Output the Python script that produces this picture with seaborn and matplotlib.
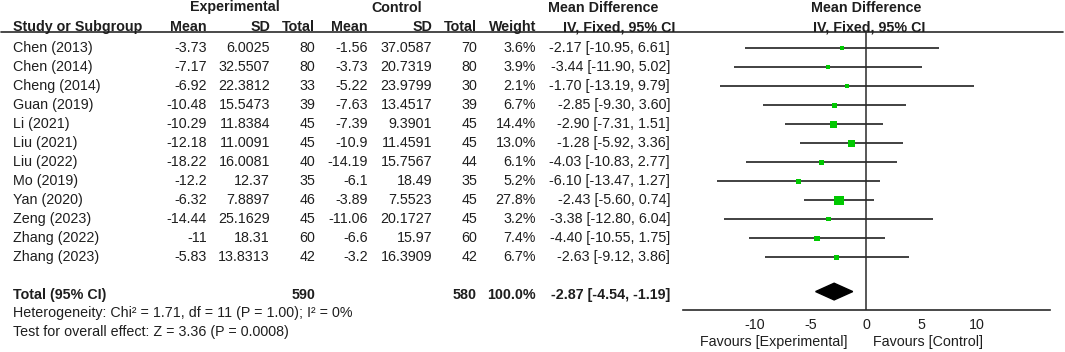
import numpy as np
import pandas as pd
import seaborn as sns
import matplotlib.pyplot as plt
from matplotlib import transforms
from matplotlib.lines import Line2D

# ---- data ----
studies = ["Chen (2013)", "Chen (2014)", "Cheng (2014)", "Guan (2019)", "Li (2021)", "Liu (2021)",
           "Liu (2022)", "Mo (2019)", "Yan (2020)", "Zeng (2023)", "Zhang (2022)", "Zhang (2023)"]
exp_mean = [-3.73, -7.17, -6.92, -10.48, -10.29, -12.18, -18.22, -12.2, -6.32, -14.44, -11, -5.83]
exp_sd = [6.0025, 32.5507, 22.3812, 15.5473, 11.8384, 11.0091, 16.0081, 12.37, 7.8897, 25.1629, 18.31, 13.8313]
exp_n = [80, 80, 33, 39, 45, 45, 40, 35, 46, 45, 60, 42]
ctrl_mean = [-1.56, -3.73, -5.22, -7.63, -7.39, -10.9, -14.19, -6.1, -3.89, -11.06, -6.6, -3.2]
ctrl_sd = [37.0587, 20.7319, 23.9799, 13.4517, 9.3901, 11.4591, 15.7567, 18.49, 7.5523, 20.1727, 15.97, 16.3909]
ctrl_n = [70, 80, 30, 39, 45, 45, 44, 35, 45, 45, 60, 42]
weight = [3.6, 3.9, 2.1, 6.7, 14.4, 13.0, 6.1, 5.2, 27.8, 3.2, 7.4, 6.7]
md = [-2.17, -3.44, -1.70, -2.85, -2.90, -1.28, -4.03, -6.10, -2.43, -3.38, -4.40, -2.63]
ci_low = [-10.95, -11.90, -13.19, -9.30, -7.31, -5.92, -10.83, -13.47, -5.60, -12.80, -10.55, -9.12]
ci_high = [6.61, 5.02, 9.79, 3.60, 1.51, 3.36, 2.77, 1.27, 0.74, 6.04, 1.75, 3.86]
total_md, total_low, total_high = -2.87, -4.54, -1.19
total_exp, total_ctrl, total_weight = 590, 580, 100.0
heterogeneity = "Heterogeneity: Chi\u00b2 = 1.71, df = 11 (P = 1.00); I\u00b2 = 0%"
overall = "Test for overall effect: Z = 3.36 (P = 0.0008)"
x_ticks = [-10, -5, 0, 5, 10]

df = pd.DataFrame({"study": studies, "md": md, "lo": ci_low, "hi": ci_high, "w": weight})
df["row"] = np.arange(len(df))
total_row = len(df) + 1

sns.set_style("white")
plt.rcParams["font.family"] = ["Liberation Sans", "DejaVu Sans"]
FS = 10.3
TC = "#1e1e1e"
LC = "#2a2a2a"

W, H = 1065, 352
fig = plt.figure(figsize=(W / 100, H / 100), dpi=100)
ax = fig.add_axes([683 / W, 1 - 310 / H, (1050 - 683) / W, (310 - 32) / H])

# CI lines, weighted squares, pooled diamond
ax.hlines(df["row"], df["lo"], df["hi"], color=LC, lw=1.25, zorder=2)
sns.scatterplot(data=df, x="md", y="row", size="w", sizes=(7, 46),
                marker="s", color="#00c800", linewidth=0, legend=False, ax=ax, zorder=3)
ax.fill([total_low, total_md, total_high, total_md],
        [total_row - 0.2, total_row - 0.64, total_row - 0.2, total_row + 0.24], color="black", zorder=3)
ax.axvline(0, color=LC, lw=1.1, zorder=1)

ax.set_xlim(-16.5, 16.6)
ax.set_ylim(total_row + 0.77, -0.858)
ax.set_xticks(x_ticks)
ax.set_xticklabels([f"{t:g}" for t in x_ticks])
ax.set_yticks([])
ax.set_xlabel("")
ax.set_ylabel("")
for s in ["top", "left", "right"]:
    ax.spines[s].set_visible(False)
ax.spines["bottom"].set_color(LC)
ax.spines["bottom"].set_linewidth(1.2)
ax.tick_params(axis="x", direction="inout", length=6, width=1.1, color=LC,
               labelsize=FS, labelcolor=TC, pad=3)

# header rule across the whole table
fig.add_artist(Line2D([1 / W, 1063 / W], [1 - 32 / H, 1 - 32 / H], color=LC, lw=1.2))

def ftext(x, y, s, **kw):
    kw.setdefault("fontsize", FS)
    kw.setdefault("color", TC)
    fig.text(x / W, 1 - y / H, s, va="center", **kw)

# headers
ftext(235, 7.5, "Experimental", ha="center", weight="bold")
ftext(397, 7.5, "Control", ha="center", weight="bold")
ftext(603, 7.5, "Mean Difference", ha="center", weight="bold")
ftext(866, 7.5, "Mean Difference", ha="center", weight="bold")
ftext(13, 27, "Study or Subgroup", ha="left", weight="bold")
for x, s in [(207, "Mean"), (270, "SD"), (315, "Total"), (368, "Mean"), (432, "SD"),
             (477, "Total"), (536, "Weight")]:
    ftext(x, 27, s, ha="right", weight="bold")
ftext(619, 27, "IV, Fixed, 95% CI", ha="center", weight="bold")
ftext(869, 27, "IV, Fixed, 95% CI", ha="center", weight="bold")

# table rows tied to the forest axis rows
tr = transforms.blended_transform_factory(fig.transFigure, ax.transData)
def rtext(x, row, s, **kw):
    kw.setdefault("fontsize", FS)
    kw.setdefault("color", TC)
    ax.text(x / W, row, s, transform=tr, va="center", clip_on=False, **kw)

for i in range(len(studies)):
    rtext(13, i, studies[i], ha="left")
    rtext(207, i, f"{exp_mean[i]:g}", ha="right")
    rtext(270, i, f"{exp_sd[i]:g}", ha="right")
    rtext(315, i, f"{exp_n[i]}", ha="right")
    rtext(368, i, f"{ctrl_mean[i]:g}", ha="right")
    rtext(432, i, f"{ctrl_sd[i]:g}", ha="right")
    rtext(477, i, f"{ctrl_n[i]}", ha="right")
    rtext(536, i, f"{weight[i]:.1f}%", ha="right")
    rtext(670, i, f"{md[i]:.2f} [{ci_low[i]:.2f}, {ci_high[i]:.2f}]", ha="right")

rtext(13, total_row, "Total (95% CI)", ha="left", weight="bold")
rtext(315, total_row, f"{total_exp}", ha="right", weight="bold")
rtext(477, total_row, f"{total_ctrl}", ha="right", weight="bold")
rtext(536, total_row, f"{total_weight:.1f}%", ha="right", weight="bold")
rtext(670, total_row, f"{total_md:.2f} [{total_low:.2f}, {total_high:.2f}]", ha="right", weight="bold")

ftext(13, 313, heterogeneity, ha="left")
ftext(13, 332, overall, ha="left")
ftext(847, 342, "Favours [Experimental]", ha="right")
ftext(873, 342, "Favours [Control]", ha="left")

fig.savefig("out.png", dpi=100)
